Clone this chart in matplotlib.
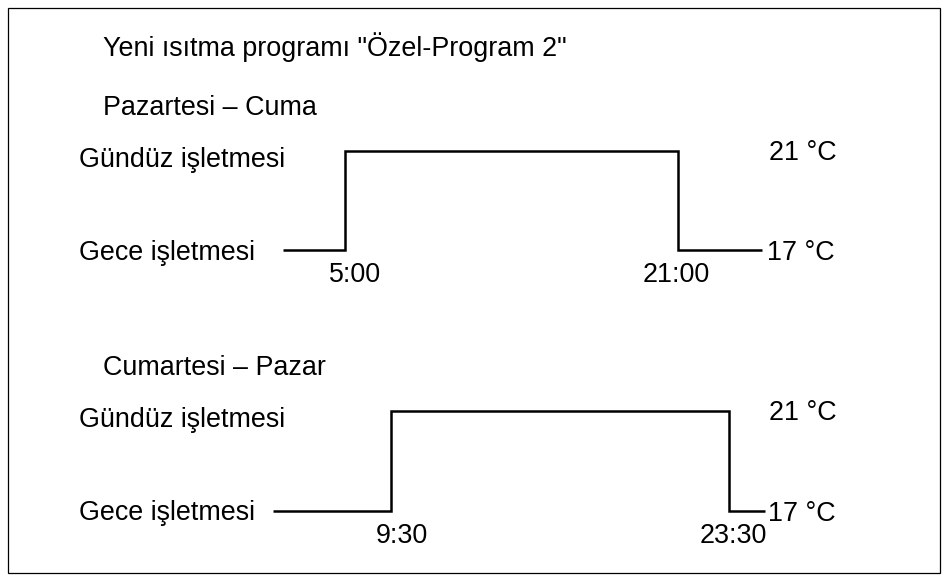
import matplotlib
matplotlib.use("Agg")
import matplotlib.pyplot as plt
from matplotlib.patches import Rectangle

plt.rcParams['font.family'] = ['Liberation Sans', 'DejaVu Sans']

W, H = 948, 581

title = 'Yeni ısıtma programı "Özel-Program 2"'
panel_titles = ['Pazartesi – Cuma', 'Cumartesi – Pazar']
mode_day = 'Gündüz işletmesi'
mode_night = 'Gece işletmesi'
temp_day = 21
temp_night = 17

# weekday program: time (h) vs temperature (°C)
weekday_times = [2.02, 5.0, 5.0, 21.0, 21.0, 25.04]
weekday_temps = [17, 17, 21, 21, 17, 17]
weekday_labels = ['5:00', '21:00']
weekday_switch = [5.0, 21.0]

# weekend program
weekend_times = [4.61, 9.5, 9.5, 23.5, 23.5, 24.99]
weekend_temps = [17, 17, 21, 21, 17, 17]
weekend_labels = ['9:30', '23:30']
weekend_switch = [9.5, 23.5]

fs = 19.4
PT = 0.72  # points per pixel at 100 dpi

fig = plt.figure(figsize=(W / 100, H / 100), dpi=100)
fig.patch.set_facecolor('white')

base = fig.add_axes([0, 0, 1, 1])
base.set_xlim(0, W)
base.set_ylim(H, 0)
base.axis('off')
base.add_patch(Rectangle((8, 8), 932, 565, fill=False, edgecolor='black', lw=0.9))


def panel(times, temps, labels, switch, label_dx, temp_dx, x_anchor, y_anchor,
          ptitle, title_base):
    (t1, px1), (t2, px2) = x_anchor
    sx = (px2 - px1) / (t2 - t1)
    x0 = t1 - px1 / sx
    (T1, py1), (T2, py2) = y_anchor
    up1, up2 = H - py1, H - py2
    sy = (up2 - up1) / (T2 - T1)
    y0 = T1 - up1 / sy
    ax = fig.add_axes([0, 0, 1, 1])
    ax.patch.set_alpha(0)
    ax.set_xlim(x0, x0 + W / sx)
    ax.set_ylim(y0, y0 + H / sy)
    ax.axis('off')
    ax.plot(times, temps, color='black', lw=1.8, solid_joinstyle='miter',
            solid_capstyle='butt')
    for lab, t, dx in zip(labels, switch, label_dx):
        ax.annotate(lab, xy=(t, temp_night), xytext=(dx * PT, -32 * PT),
                    textcoords='offset points', ha='center', va='baseline', fontsize=fs)
    ax.annotate(f'{temp_day} °C', xy=(times[-1], temp_day),
                xytext=(temp_dx[0] * PT, -9 * PT),
                textcoords='offset points', ha='left', va='baseline', fontsize=fs)
    ax.annotate(f'{temp_night} °C', xy=(times[-1], temp_night),
                xytext=(temp_dx[1] * PT, -10 * PT),
                textcoords='offset points', ha='left', va='baseline', fontsize=fs)
    base.text(79, py2 + 16, mode_day, ha='left', va='baseline', fontsize=fs)
    base.text(79, py1 + 9, mode_night, ha='left', va='baseline', fontsize=fs)
    base.text(103, title_base, ptitle, ha='left', va='baseline', fontsize=fs)
    return ax


base.text(103, 56, title, ha='left', va='baseline', fontsize=fs)

panel(weekday_times, weekday_temps, weekday_labels, weekday_switch, [10, -2], [7, 5],
      ((5.0, 345), (21.0, 678)), ((17, 250.5), (21, 151)), panel_titles[0], 115)
panel(weekend_times, weekend_temps, weekend_labels, weekend_switch, [11, 4], [4, 3],
      ((9.5, 391), (23.5, 729)), ((17, 511), (21, 411)), panel_titles[1], 375)

fig.savefig('out.png', dpi=100, facecolor='white')
